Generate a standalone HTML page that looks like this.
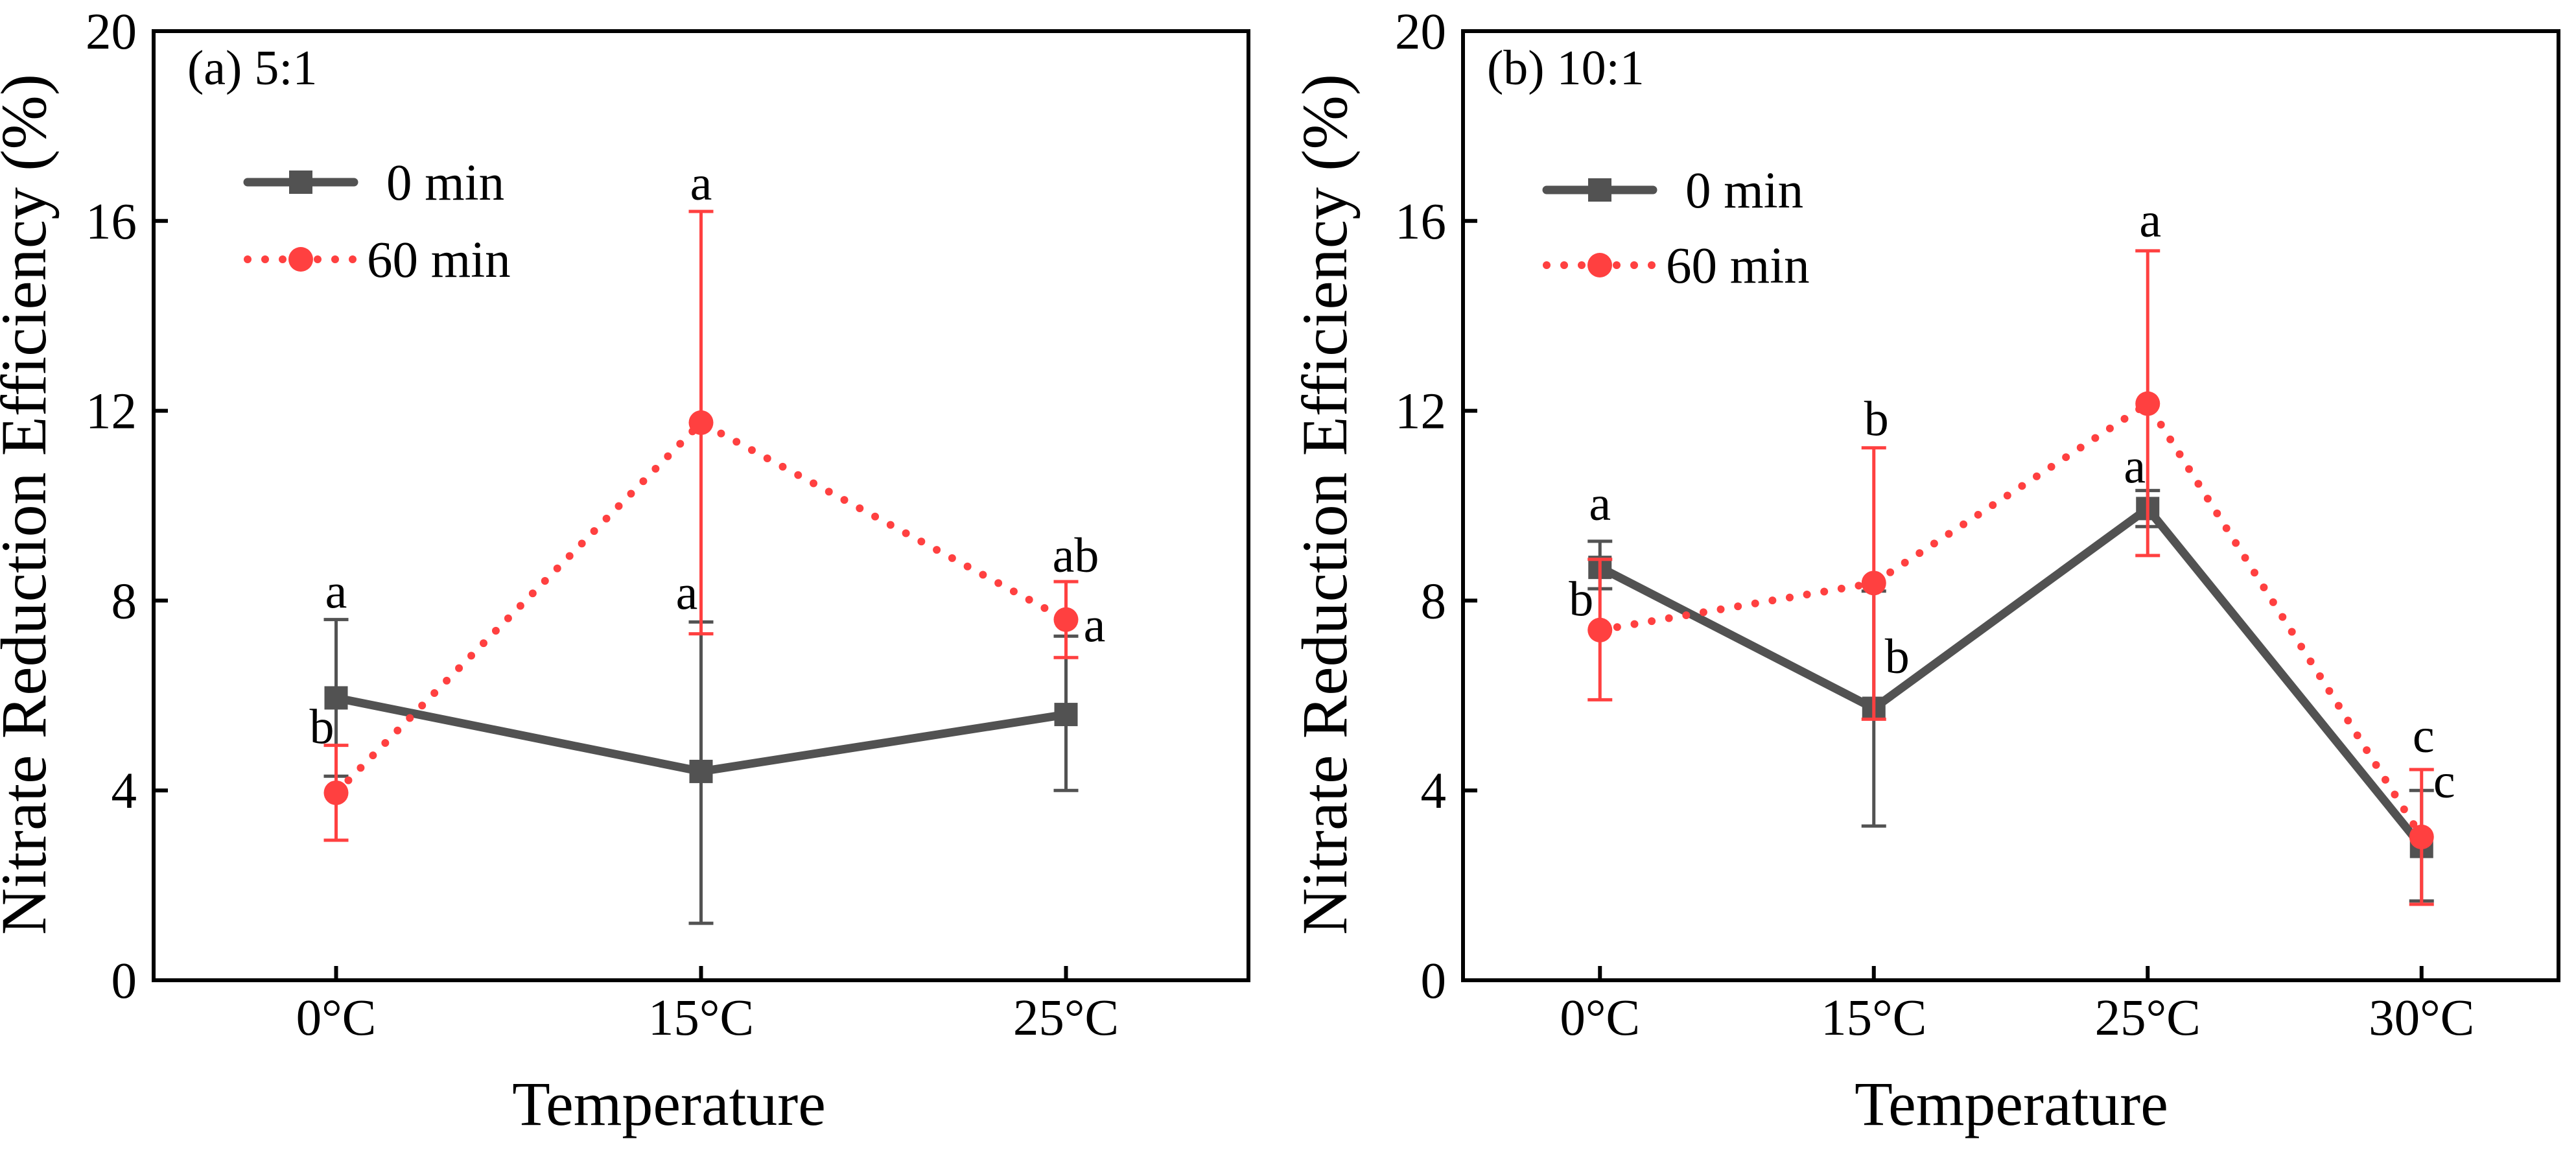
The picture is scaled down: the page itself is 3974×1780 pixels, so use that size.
<!DOCTYPE html>
<html><head><meta charset="utf-8"><style>
html,body{margin:0;padding:0;background:#fff;}
svg{display:block;font-family:"Liberation Serif",serif;}
</style></head><body>
<svg id="chart" width="3974" height="1780" viewBox="0 0 3974 1780" xmlns="http://www.w3.org/2000/svg"></svg>
<script>
// Panel (a) 5:1
const catsA = ["0°C","15°C","25°C"];
const min0A = [5.95, 4.4, 5.6];
const min0LoA = [4.3, 1.2, 4.0];
const min0HiA = [7.6, 7.55, 7.25];
const min60A = [3.95, 11.75, 7.6];
const min60LoA = [2.95, 7.3, 6.8];
const min60HiA = [4.95, 16.2, 8.4];
// Panel (b) 10:1
const catsB = ["0°C","15°C","25°C","30°C"];
const min0B = [8.7, 5.73, 9.94, 2.82];
const min0LoB = [8.25, 3.25, 9.56, 1.67];
const min0HiB = [9.25, 8.2, 10.32, 4.0];
const min60B = [7.38, 8.37, 12.15, 3.02];
const min60LoB = [5.91, 5.5, 8.95, 1.6];
const min60HiB = [8.87, 11.22, 15.37, 4.44];
const yTicks = [0, 4, 8, 12, 16, 20];
const lettersA0 = ["a","a","a"];
const lettersA60 = ["b","a","ab"];
const lettersB0 = ["a","b","a","c"];
const lettersB60 = ["b","b","a","c"];

const NS = "http://www.w3.org/2000/svg";
const svg = document.getElementById("chart");
const GREY = "#525252", RED = "#ff4040";
function mk(tag, attrs, parent, text){
  const e = document.createElementNS(NS, tag);
  for (const k in attrs) e.setAttribute(k, attrs[k]);
  if (text !== undefined) e.textContent = text;
  (parent || svg).appendChild(e);
  return e;
}

function panel(p){
  const g = mk("g", {});
  
  
  const top = 48, bot = 1512;
  const yS = v => bot - (v / 20) * (bot - top);
  const n = p.cats.length;
  const step = (p.right - p.left) / n;
  const xS = i => p.left + step * (i + 0.5);
  const fr = mk("rect", {x:p.left, y:top, width:p.right-p.left, height:bot-top, fill:"none", stroke:"#000", "stroke-width":6}, g);
  
  
  yTicks.forEach(t => {
    const tk = mk("line", {x1:p.left, x2:p.left+22, y1:yS(t), y2:yS(t), stroke:"#000", "stroke-width":6}, g);
    
    
    const tl = mk("text", {x:p.left-26, y:yS(t)+27, "text-anchor":"end", "font-size":79, fill:"#000"}, g, String(t));
    
    
  });
  p.cats.forEach((c, i) => {
    const tk = mk("line", {x1:xS(i), x2:xS(i), y1:bot, y2:bot-22, stroke:"#000", "stroke-width":6}, g);
    
    
    const tl = mk("text", {x:xS(i), y:1596, "text-anchor":"middle", "font-size":79, fill:"#000"}, g, c);
    
    
  });
  const xt = mk("text", {x:p.xTitleX, y:1735, "text-anchor":"middle", "font-size":96, fill:"#000"}, g, "Temperature");
  
  
  const yt = mk("text", {x:0, y:0, "text-anchor":"middle", "font-size":100, fill:"#000", transform:`translate(${p.yTitleX},778) rotate(-90)`}, g, "Nitrate Reduction Efficiency (%)");
  
  
  const pl = mk("text", {x:p.labelX, y:130, "font-size":76, fill:"#000"}, g, p.label);
  
  

  function errs(vals, lo, hi, color, name){
    vals.forEach((v, i) => {
      const x = xS(i);
      const e1 = mk("line", {x1:x, x2:x, y1:yS(lo[i]), y2:yS(hi[i]), stroke:color, "stroke-width":5}, g);
      
      
      [lo[i], hi[i]].forEach(b => {
        const c = mk("line", {x1:x-19, x2:x+19, y1:yS(b), y2:yS(b), stroke:color, "stroke-width":5}, g);
        
        
      });
    });
  }
  errs(p.m0, p.m0Lo, p.m0Hi, GREY, "min0");
  const l0 = mk("polyline", {points:p.m0.map((v,i)=>xS(i)+","+yS(v)).join(" "), fill:"none", stroke:GREY, "stroke-width":13}, g);
  
  
  p.m0.forEach((v, i) => {
    const s = mk("rect", {x:xS(i)-18, y:yS(v)-18, width:36, height:36, fill:GREY}, g);
    
    
  });
  errs(p.m60, p.m60Lo, p.m60Hi, RED, "min60");
  const l60 = mk("polyline", {points:p.m60.map((v,i)=>xS(i)+","+yS(v)).join(" "), fill:"none", stroke:RED, "stroke-width":12, "stroke-dasharray":"0 27", "stroke-linecap":"round"}, g);
  
  
  p.m60.forEach((v, i) => {
    const c = mk("circle", {cx:xS(i), cy:yS(v), r:19, fill:RED}, g);
    
    
  });
  p.ann.forEach(a => {
    const arr = a.series === 0 ? p.m0Hi : p.m60Hi;
    const t = mk("text", {x:xS(a.i)+a.dx, y:yS(arr[a.i])+a.dy, "text-anchor":"middle", "font-size":76, fill:"#000"}, g, a.t);
    
    
  });
  const L = p.legend;
  const lg = mk("g", {}, g);
  
  
  const a1 = mk("line", {x1:L.x+6, x2:L.x+170, y1:L.y0, y2:L.y0, stroke:GREY, "stroke-width":13, "stroke-linecap":"round"}, lg);
  
  
  const a2 = mk("rect", {x:L.x+88-18, y:L.y0-18, width:36, height:36, fill:GREY}, lg);
  
  
  const a3 = mk("text", {x:L.x+220, y:L.y0+27, "font-size":79, fill:"#000"}, lg, "0 min");
  
  
  const b1 = mk("line", {x1:L.x+6, x2:L.x+176, y1:L.y1, y2:L.y1, stroke:RED, "stroke-width":12, "stroke-dasharray":"0 27", "stroke-linecap":"round"}, lg);
  
  
  const b2 = mk("circle", {cx:L.x+88, cy:L.y1, r:19, fill:RED}, lg);
  
  
  const b3 = mk("text", {x:L.x+190, y:L.y1+27, "font-size":79, fill:"#000"}, lg, "60 min");
  
  
}

panel({id:"panel-a", label:"(a) 5:1", left:237, right:1926, yTitleX:70, xTitleX:1032, labelX:289,
  cats:catsA, m0:min0A, m0Lo:min0LoA, m0Hi:min0HiA, m60:min60A, m60Lo:min60LoA, m60Hi:min60HiA,
  legend:{x:376, y0:281, y1:400},
  ann:[
    {series:0,i:0,t:lettersA0[0],dx:0,dy:-18},
    {series:0,i:1,t:lettersA0[1],dx:-22,dy:-20},
    {series:0,i:2,t:lettersA0[2],dx:44,dy:8},
    {series:1,i:0,t:lettersA60[0],dx:-22,dy:-3},
    {series:1,i:1,t:lettersA60[1],dx:0,dy:-18},
    {series:1,i:2,t:lettersA60[2],dx:15,dy:-15}
  ]});
panel({id:"panel-b", label:"(b) 10:1", left:2257, right:3947, yTitleX:2077, xTitleX:3103, labelX:2294,
  cats:catsB, m0:min0B, m0Lo:min0LoB, m0Hi:min0HiB, m60:min60B, m60Lo:min60LoB, m60Hi:min60HiB,
  legend:{x:2380, y0:293, y1:409},
  ann:[
    {series:0,i:0,t:lettersB0[0],dx:0,dy:-33},
    {series:0,i:1,t:lettersB0[1],dx:36,dy:126},
    {series:0,i:2,t:lettersB0[2],dx:-20,dy:-12},
    {series:0,i:3,t:lettersB0[3],dx:35,dy:11},
    {series:1,i:0,t:lettersB60[0],dx:-29,dy:87},
    {series:1,i:1,t:lettersB60[1],dx:4,dy:-19},
    {series:1,i:2,t:lettersB60[2],dx:4,dy:-22},
    {series:1,i:3,t:lettersB60[3],dx:3,dy:-27}
  ]});
</script>
</body></html>
